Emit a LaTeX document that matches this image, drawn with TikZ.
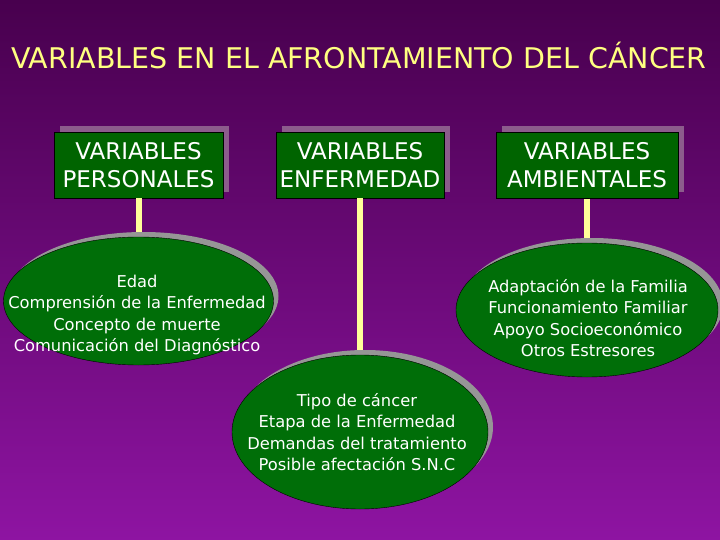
\documentclass[tikz,border=0pt]{standalone}
\usepackage{fontspec}
\setmainfont{DejaVu Sans}
\usetikzlibrary{shapes, shadows}

\definecolor{fondoarriba}{RGB}{72,0,78}
\definecolor{fondoabajo}{RGB}{142,20,162}
\definecolor{verdecaja}{RGB}{0,100,0}
\definecolor{verdeelipse}{RGB}{0,110,8}
\definecolor{sombracaja}{RGB}{140,92,140}
\definecolor{sombraelipse}{RGB}{150,150,150}
\definecolor{amarilloposte}{RGB}{255,255,153}
\definecolor{amarillotitulo}{RGB}{255,255,128}

\tikzstyle{titulo} =
        [
                text = amarillotitulo,
                font = \fontsize{28.5}{32}\selectfont
        ]
\tikzstyle{caja} =
        [
                rectangle,
                draw,
                fill = verdecaja,
                text = white,
                align = center,
                inner sep = 2pt,
                minimum height = 66pt,
                drop shadow = {shadow xshift = 6pt, shadow yshift = 6pt, fill = sombracaja, opacity = 1},
                font = \fontsize{23}{28}\selectfont
        ]
\tikzstyle{elipse} =
        [
                ellipse,
                draw,
                fill = verdeelipse,
                inner sep = 0pt,
                drop shadow = {shadow xshift = 5pt, shadow yshift = 5pt, fill = sombraelipse, opacity = 1}
        ]
\tikzstyle{lista} =
        [
                text = white,
                align = center,
                font = \fontsize{16.3}{21.5}\selectfont
        ]
\tikzstyle{palo} =
        [
                draw = amarilloposte,
                line width = 6pt
        ]

\begin{document}
\begin{tikzpicture}[x = 1pt, y = -1pt]
        \shade [top color = fondoarriba, bottom color = fondoabajo] (0, 0) rectangle (720, 540);
        \useasboundingbox (0, 0) rectangle (720, 540);

        \node [titulo] (titulo) at (359, 55) {VARIABLES EN EL AFRONTAMIENTO DEL CÁNCER};

        \node [caja, minimum width = 169pt] (personales) at (138.5, 165) {VARIABLES\\PERSONALES};
        \node [caja, minimum width = 168pt] (enfermedad) at (360, 165) {VARIABLES\\ENFERMEDAD};
        \node [caja, minimum width = 182pt] (ambientales) at (587, 165.5) {VARIABLES\\AMBIENTALES};

        \node [elipse, minimum width = 270pt, minimum height = 128pt] (epersonal) at (138.5, 301) {};
        \node [elipse, minimum width = 262pt, minimum height = 134pt] (eambiental) at (587, 310) {};
        \node [elipse, minimum width = 256pt, minimum height = 154pt] (eenfermedad) at (360, 432) {};

        \node [lista] (tpersonal) at (137, 315) {Edad\\Comprensión de la Enfermedad\\Concepto de muerte\\Comunicación del Diagnóstico};
        \node [lista] (tambiental) at (588, 318) {Adaptación de la Familia\\Funcionamiento Familiar\\Apoyo Socioeconómico\\Otros Estresores};
        \node [lista] (tenfermedad) at (357, 432) {Tipo de cáncer\\Etapa de la Enfermedad\\Demandas del tratamiento\\Posible afectación S.N.C};

        \path [palo] (personales.south) -- ([yshift = 5pt] epersonal.north);
        \path [palo] (enfermedad.south) -- ([yshift = 5pt] eenfermedad.north);
        \path [palo] (ambientales.south) -- ([yshift = 5pt] eambiental.north);
\end{tikzpicture}
\end{document}
